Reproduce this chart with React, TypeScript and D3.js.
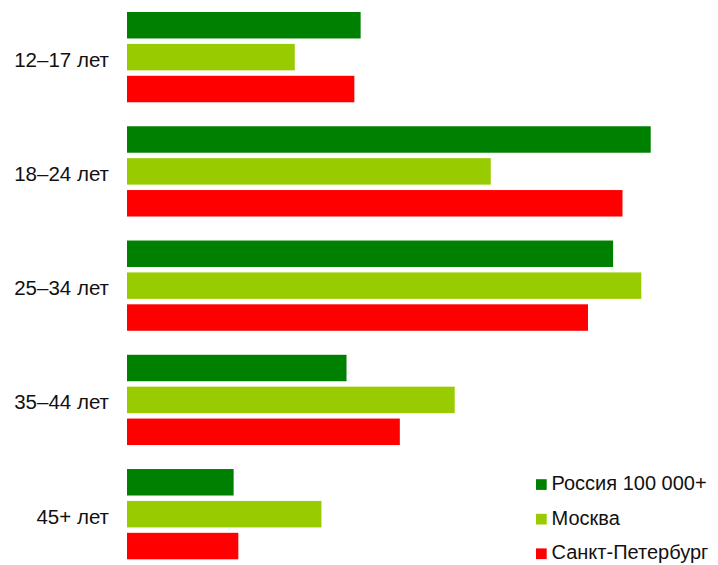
import React from "react";
import * as d3 from "d3";

const categories = ["12–17 лет", "18–24 лет", "25–34 лет", "35–44 лет", "45+ лет"];
const seriesNames = ["Россия 100 000+", "Москва", "Санкт-Петербург"];
const russia = [14.9, 33.4, 31.0, 14.0, 6.8];
const moscow = [10.7, 23.2, 32.8, 20.9, 12.4];
const spb = [14.5, 31.6, 29.4, 17.4, 7.1];
const colors = ["#008000", "#99cc00", "#ff0000"];

const W = 718;
const H = 565;

export default function App() {
  const seriesValues = [russia, moscow, spb];
  const y0 = d3.scaleBand<string>().domain(categories).range([12, 559.3]).paddingInner(0.21).paddingOuter(0);
  const y1 = d3.scaleBand<string>().domain(seriesNames).range([0, y0.bandwidth()]).paddingInner(0.17).paddingOuter(0);
  const x = d3.scaleLinear().domain([0, 35]).range([127, 127 + 15.68 * 35]);
  const font = "'Liberation Sans', Arial, sans-serif";
  return (
    <svg
      width={W}
      height={H}
      viewBox={`0 0 ${W} ${H}`}
      style={{ position: "absolute", left: 0, top: 0, display: "block", fontFamily: font }}
    >
      <rect x={0} y={0} width={W} height={H} fill="#ffffff" />
      {categories.map((c, i) => (
        <g key={c}>
          {seriesNames.map((s, j) => (
            <rect
              key={s}
              x={x(0)}
              y={(y0(c) as number) + (y1(s) as number)}
              width={x(seriesValues[j][i]) - x(0)}
              height={y1.bandwidth()}
              fill={colors[j]}
            />
          ))}
          <text
            x={109}
            y={(y0(c) as number) + y0.bandwidth() / 2 + 9.5}
            textAnchor="end"
            fontSize={20.5}
            fill="#111"
          >
            {c}
          </text>
        </g>
      ))}
      {seriesNames.map((s, j) => (
        <g key={s} transform={`translate(536, ${484.5 + j * 34.6})`}>
          <rect x={0} y={-5.3} width={10.7} height={10.7} fill={colors[j]} />
          <text x={15.5} y={5.6} fontSize={20} fill="#111">
            {s}
          </text>
        </g>
      ))}
    </svg>
  );
}
